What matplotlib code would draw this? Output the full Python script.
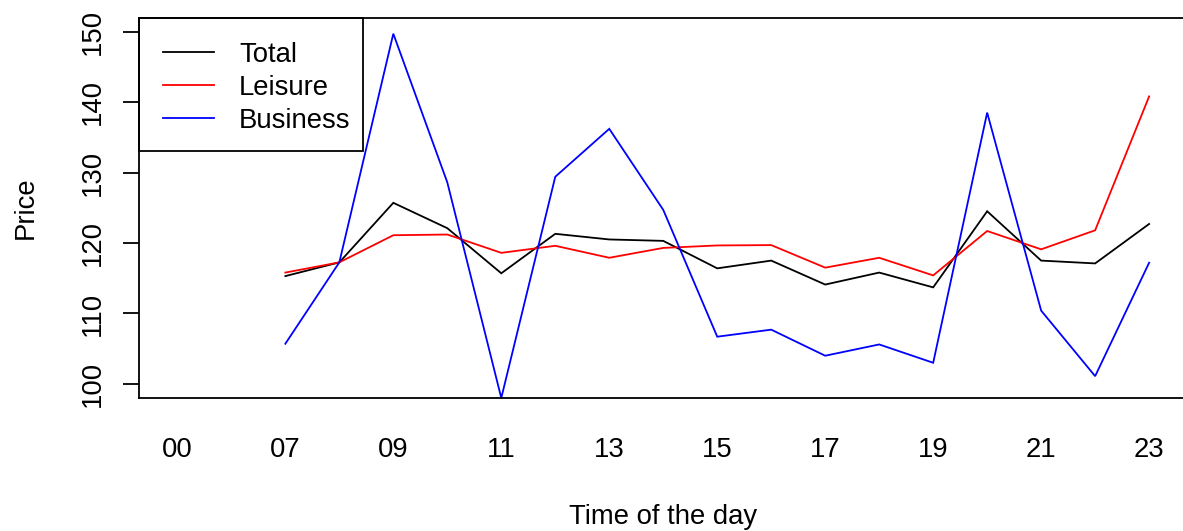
import numpy as np
import matplotlib
matplotlib.use("Agg")
import matplotlib.pyplot as plt
from matplotlib.lines import Line2D
from matplotlib.patches import Rectangle

plt.rcParams['font.family'] = ['Liberation Sans', 'DejaVu Sans']

hours = ["00", "06", "07", "08", "09", "10", "11", "12", "13", "14", "15",
         "16", "17", "18", "19", "20", "21", "22", "23"]
nan = np.nan
total = [nan, nan, 115.3, 117.25, 125.7, 122.1, 115.7, 121.3, 120.5, 120.3,
         116.4, 117.5, 114.1, 115.8, 113.7, 124.5, 117.5, 117.1, 122.7]
leisure = [nan, nan, 115.8, 117.25, 121.1, 121.2, 118.6, 119.6, 117.9, 119.3,
           119.65, 119.7, 116.5, 117.9, 115.4, 121.7, 119.1, 121.8, 140.8]
business = [nan, nan, 105.7, 117.25, 149.7, 128.6, 98.0, 129.4, 136.2, 124.7,
            106.7, 107.7, 104.0, 105.6, 103.0, 138.5, 110.4, 101.1, 117.2]
series_names = ["Total", "Leisure", "Business"]
series_colors = ["black", "#FF0000", "#0000FF"]
yticks = [100, 110, 120, 130, 140, 150]

W, H = 1183, 531
fig = plt.figure(figsize=(W / 100, H / 100), dpi=100)
left, right, top, bottom = 138.5, 1188.0, 17.5, 398.0
ax = fig.add_axes([left / W, 1 - bottom / H, (right - left) / W, (bottom - top) / H])

x = np.arange(1, len(hours) + 1)
lw = 1.3
for vals, c in zip([total, leisure, business], series_colors):
    ax.plot(x, vals, color=c, lw=lw, solid_joinstyle='miter')

n = len(hours)
ax.set_xlim(1 - 0.04 * (n - 1), n + 0.04 * (n - 1))
ax.set_ylim(100 - 0.04 * 50, 150 + 0.04 * 50)

ax.set_xticks(x[::2])
ax.set_xticklabels(hours[::2])
ax.set_yticks(yticks)
ax.set_yticklabels([str(v) for v in yticks], rotation=90, va='center')
fs = 19.8
ax.tick_params(axis='x', length=0, pad=28, labelsize=fs)
ax.tick_params(axis='y', length=11.5, width=lw, pad=12, labelsize=fs)
for s in ax.spines.values():
    s.set_linewidth(lw)

fig.text(663 / W, 1 - 524 / H, "Time of the day", ha='center', va='baseline', fontsize=fs)
fig.text(33 / W, 1 - 208 / H, "Price", ha='center', va='baseline', rotation=90,
         rotation_mode='anchor', fontsize=fs)

# legend (figure pixel coordinates)
def fx(px):
    return px / W

def fy(py):
    return 1 - py / H

fig.patches.append(Rectangle((fx(138.5), fy(151)), fx(363) - fx(138.5), fy(17.5) - fy(151),
                             transform=fig.transFigure, fill=False, edgecolor='black',
                             lw=lw, zorder=5))
rows = [52, 85.3, 118.3]
for name, c, ry in zip(series_names, series_colors, rows):
    fig.lines.append(Line2D([fx(163), fx(214)], [fy(ry), fy(ry)], color=c, lw=lw,
                            transform=fig.transFigure))
    fig.text(fx(239), fy(ry + 9.5), name, ha='left', va='baseline', fontsize=fs)

fig.savefig("out.png", dpi=100)
